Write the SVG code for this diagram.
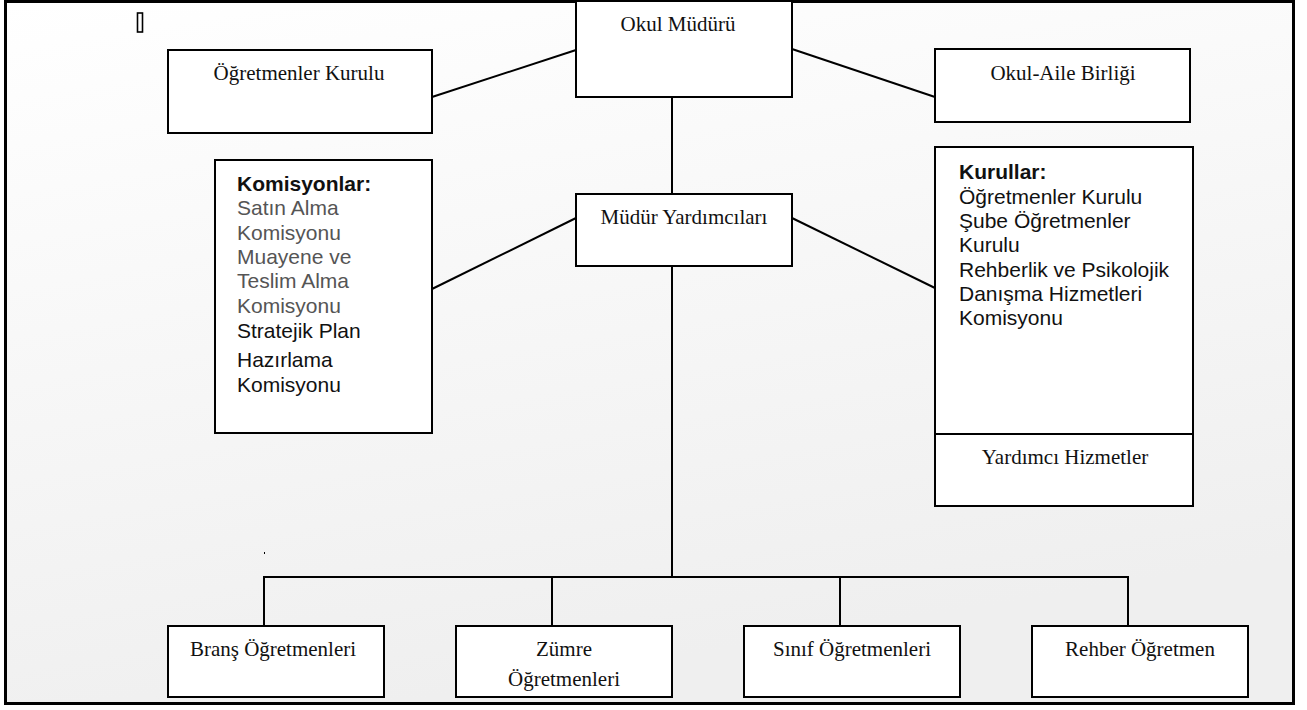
<svg xmlns="http://www.w3.org/2000/svg" width="1307" height="710" viewBox="0 0 1307 710">
<defs>
<linearGradient id="bg" x1="0" y1="0" x2="0.3" y2="1">
<stop offset="0" stop-color="#ffffff"/>
<stop offset="1" stop-color="#efefef"/>
</linearGradient>
</defs>
<style>
.box{fill:#fff;stroke:#000;stroke-width:2}
.ln{stroke:#000;stroke-width:2;fill:none}
.t{font-family:"Liberation Serif","Times New Roman",serif;font-size:21px;fill:#111;text-anchor:middle}
.s{font-family:"Liberation Sans",Arial,sans-serif;font-size:21px;fill:#111}
.g{fill:#555}
.b{font-weight:bold}
</style>
<rect x="0" y="0" width="1307" height="710" fill="#fff"/>
<rect x="5.5" y="1.5" width="1288" height="702" fill="url(#bg)" stroke="#000" stroke-width="3"/>
<rect x="137.5" y="13" width="5" height="19" fill="none" stroke="#000" stroke-width="1.6"/>
<rect x="264" y="552" width="1" height="2" fill="#000"/>
<g id="connectors">
<line class="ln" x1="432" y1="97" x2="576" y2="50"/>
<line class="ln" x1="792" y1="49" x2="935" y2="97"/>
<line class="ln" x1="672" y1="97" x2="672" y2="194"/>
<line class="ln" x1="576" y1="218" x2="432" y2="289"/>
<line class="ln" x1="792" y1="218" x2="935" y2="288"/>
<line class="ln" x1="672" y1="266" x2="672" y2="577"/>
<polyline class="ln" points="264,626 264,577 1128,577 1128,626"/>
<line class="ln" x1="552" y1="577" x2="552" y2="626"/>
<line class="ln" x1="840" y1="577" x2="840" y2="626"/>
</g>
<g id="okul-muduru">
<rect class="box" x="576" y="1" width="216" height="96"/>
<text class="t" x="678" y="31">Okul Müdürü</text>
</g>
<g id="ogretmenler-kurulu">
<rect class="box" x="168" y="50" width="264" height="83"/>
<text class="t" x="299" y="80">Öğretmenler Kurulu</text>
</g>
<g id="okul-aile">
<rect class="box" x="935" y="49" width="255" height="73"/>
<text class="t" x="1063" y="80">Okul-Aile Birliği</text>
</g>
<g id="mudur-yardimcilari">
<rect class="box" x="576" y="194" width="216" height="72"/>
<text class="t" x="684" y="224">Müdür Yardımcıları</text>
</g>
<g id="komisyonlar">
<rect class="box" x="215" y="160" width="217" height="273"/>
<text class="s" x="237"><tspan class="b" x="237" y="191">Komisyonlar:</tspan><tspan class="g" x="237" y="215">Satın Alma</tspan><tspan class="g" x="237" y="240">Komisyonu</tspan><tspan class="g" x="237" y="264">Muayene ve</tspan><tspan class="g" x="237" y="288">Teslim Alma</tspan><tspan class="g" x="237" y="313">Komisyonu</tspan><tspan x="237" y="338">Stratejik Plan</tspan><tspan x="237" y="367">Hazırlama</tspan><tspan x="237" y="392">Komisyonu</tspan></text>
</g>
<g id="kurullar">
<rect class="box" x="935" y="147" width="258" height="359"/>
<line class="ln" x1="935" y1="434" x2="1193" y2="434"/>
<text class="s" x="959"><tspan class="b" x="959" y="179">Kurullar:</tspan><tspan x="959" y="203.5">Öğretmenler Kurulu</tspan><tspan x="959" y="228">Şube Öğretmenler</tspan><tspan x="959" y="252">Kurulu</tspan><tspan x="959" y="276.5">Rehberlik ve Psikolojik</tspan><tspan x="959" y="300.5">Danışma Hizmetleri</tspan><tspan x="959" y="325">Komisyonu</tspan></text>
<text class="t" x="1065" y="464">Yardımcı Hizmetler</text>
</g>
<g id="brans">
<rect class="box" x="168" y="626" width="216" height="71"/>
<text class="t" x="273" y="656">Branş Öğretmenleri</text>
</g>
<g id="zumre">
<rect class="box" x="456" y="626" width="216" height="71"/>
<text class="t" x="564" y="656">Zümre</text>
<text class="t" x="564" y="686">Öğretmenleri</text>
</g>
<g id="sinif">
<rect class="box" x="744" y="626" width="216" height="71"/>
<text class="t" x="852" y="656">Sınıf Öğretmenleri</text>
</g>
<g id="rehber">
<rect class="box" x="1032" y="626" width="216" height="71"/>
<text class="t" x="1140" y="656">Rehber Öğretmen</text>
</g>
</svg>
